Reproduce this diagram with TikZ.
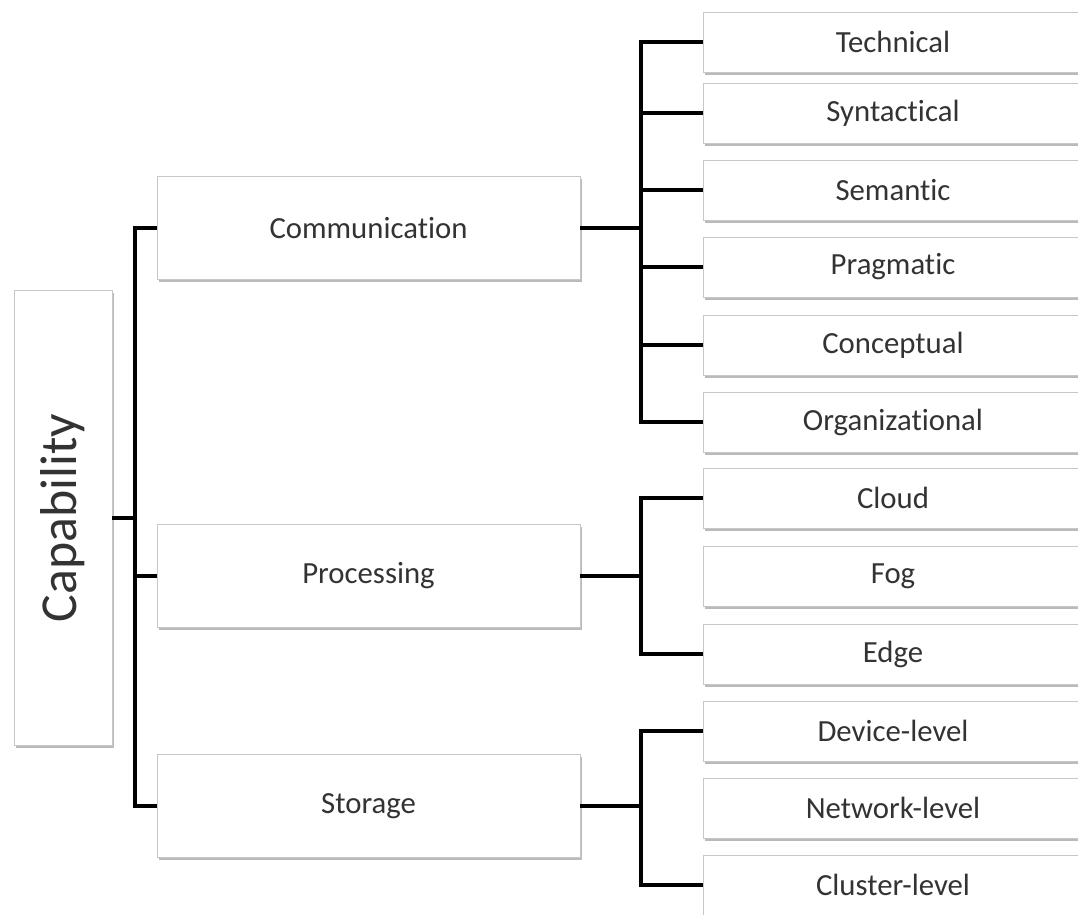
\documentclass[tikz,border=0pt]{standalone}
\usepackage{fontspec}
\setmainfont{Carlito}[RawFeature={-liga;-calt;-clig}]
\usetikzlibrary{shadows}

\begin{document}
\begin{tikzpicture}[x=0.02cm, y=-0.02cm,
    box/.style={draw=black!22, fill=white, text=black!80, inner sep=0pt,
      font=\fontsize{17.5}{20}\selectfont,
      drop shadow={shadow xshift=1pt, shadow yshift=-1.6pt, fill=black!45, opacity=0.6}},
    midbox/.style={box, minimum width=8.46cm, minimum height=2.06cm},
    leafbox/.style={box, minimum width=7.6cm, minimum height=1.2cm},
    link/.style={line width=2.4pt}]
\clip (0,0) rectangle (1078,915);
\fill[white] (0,0) rectangle (1078,915);
\coordinate (trunk) at (135,0);
\coordinate (fork) at (641,0);

% root
\node[box, minimum width=1.96cm, minimum height=9.1cm,
  font=\fontsize{29.5}{32}\selectfont] (cap) at (63,518) {\rotatebox{90}{Capability}};

% second level
\node[midbox] (comm) at (368.5,228) {Communication};
\node[midbox] (proc) at (368.5,576) {Processing};
\node[midbox] (stor) at (368.5,806) {Storage};

% leaves
\node[leafbox] (tech) at (893,42) {Technical};
\node[leafbox] (synt) at (893,113) {Syntactical};
\node[leafbox] (sem)  at (893,190) {Semantic};
\node[leafbox] (prag) at (893,267) {Pragmatic};
\node[leafbox] (conc) at (893,345) {Conceptual};
\node[leafbox] (org)  at (893,422) {Organizational};
\node[leafbox] (cloud) at (893,498) {Cloud};
\node[leafbox] (fog)  at (893,576) {Fog};
\node[leafbox] (edge) at (893,654) {Edge};
\node[leafbox] (dev)  at (893,731) {Device-level};
\node[leafbox] (net)  at (893,808) {Network-level};
\node[leafbox] (clus) at (893,885) {Cluster-level};

% connectors
\draw[link] (cap.east) -- (cap.east -| trunk);
\draw[link] (comm.west) -- (comm.west -| trunk) |- (stor.west);
\draw[link] (proc.west) -- (proc.west -| trunk);

\draw[link] (comm.east) -- (comm.east -| fork);
\draw[link] (tech.west) -- (tech.west -| fork) |- (org.west);
\foreach \n in {synt,sem,prag,conc}
  \draw[link] (\n.west) -- (\n.west -| fork);

\draw[link] (proc.east) -- (proc.east -| fork);
\draw[link] (cloud.west) -- (cloud.west -| fork) |- (edge.west);

\draw[link] (stor.east) -- (stor.east -| fork);
\draw[link] (dev.west) -- (dev.west -| fork) |- (clus.west);
\end{tikzpicture}
\end{document}
